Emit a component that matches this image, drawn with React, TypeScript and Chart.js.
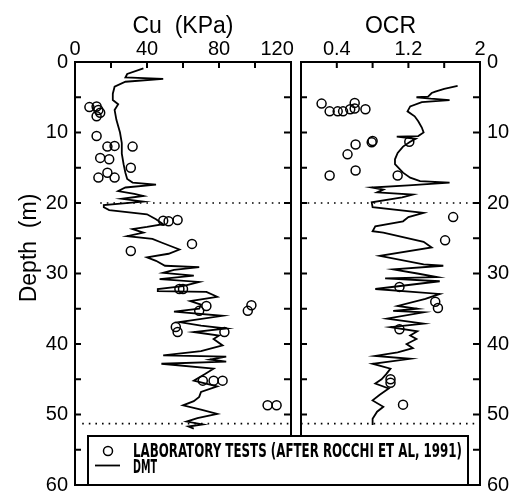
import React, { useEffect, useRef } from "react";
import { Chart, registerables } from "chart.js";

Chart.register(...registerables);

// ---------- data ----------
const dmtCuDepth = [0.9, 1.7, 2.2, 2.4, 2.8, 3.5, 4.5, 5.4, 6.0, 6.8, 8.2, 10.0, 11.5, 13.0, 14.5, 15.7, 16.6, 17.1, 17.4, 17.8, 18.3, 18.7, 19.0, 19.4, 19.8, 20.3, 20.6, 21.0, 21.6, 22.3, 23.0, 23.4, 23.7, 24.2, 24.7, 25.1, 25.6, 26.1, 26.6, 27.2, 27.7, 28.2, 28.9, 29.1, 29.5, 29.9, 30.3, 30.8, 31.2, 31.8, 32.2, 32.5, 32.6, 33.3, 33.9, 34.4, 35.0, 35.4, 36.0, 36.9, 37.4, 37.8, 38.3, 38.8, 39.3, 40.2, 41.0, 41.6, 41.8, 42.2, 42.5, 42.8, 43.5, 44.3, 45.2, 46.0, 46.8, 47.5, 48.1, 48.7, 49.3, 49.9, 50.5, 51.0, 51.4, 51.7, 52.0];
const dmtCu = [38, 29, 28, 49, 28, 22, 21, 21, 24, 22, 23, 25, 26, 26, 27, 28, 29, 32, 45, 28, 24, 33, 38, 26, 38, 16, 16, 19, 40, 45, 49, 40, 32, 38, 29, 43, 48, 53, 58, 52, 40, 45, 50, 69, 55, 49, 66, 47, 69, 60, 46, 46, 73, 79, 64, 70, 69, 55, 82, 58, 70, 84, 66, 80, 77, 82, 70, 49, 84, 75, 84, 48, 77, 72, 66, 79, 70, 69, 66, 60, 70, 79, 68, 62, 71, 63, 66];

const labCuDepth = [6.3, 6.4, 6.8, 7.2, 7.7, 10.5, 12.0, 11.9, 12.0, 13.6, 13.8, 15.0, 16.4, 15.7, 16.4, 22.5, 22.6, 22.4, 26.8, 25.8, 32.2, 32.2, 34.6, 35.3, 34.5, 35.3, 37.6, 38.3, 38.3, 45.2, 45.2, 45.2, 48.7, 48.7];
const labCu = [12, 8, 13, 14, 12, 12, 18, 22, 32, 14, 19, 31, 13, 18, 22, 49, 52, 57, 31, 65, 58, 60, 73, 69, 98, 96, 56, 57, 83, 71, 77, 82, 107, 112];

const dmtOcrDepth = [3.4, 3.8, 4.2, 4.4, 4.9, 5.0, 5.2, 5.4, 5.7, 6.3, 7.0, 7.7, 8.4, 9.3, 10.0, 10.5, 10.6, 10.9, 11.3, 12.0, 12.9, 13.8, 14.5, 15.7, 16.4, 16.9, 17.1, 17.5, 17.8, 18.1, 18.5, 18.8, 19.2, 19.9, 20.6, 21.4, 22.0, 22.6, 23.3, 24.0, 24.2, 25.5, 26.3, 27.5, 28.7, 28.9, 29.4, 30.0, 30.5, 30.7, 31.1, 32.2, 32.9, 33.6, 34.6, 35.0, 35.3, 35.5, 36.4, 37.1, 37.6, 38.2, 38.8, 39.3, 40.0, 40.6, 41.2, 41.7, 42.1, 42.8, 43.5, 44.3, 45.0, 45.6, 46.3, 47.2, 48.0, 48.9, 49.6, 50.6, 51.5];
const dmtOcr = [1.75, 1.6, 1.5, 1.46, 1.42, 1.29, 1.45, 1.66, 1.35, 1.22, 1.19, 1.27, 1.31, 1.35, 1.37, 1.31, 1.07, 1.28, 1.22, 1.14, 1.08, 1.05, 1.05, 1.14, 1.22, 1.33, 1.66, 1.2, 0.79, 0.92, 0.85, 1.25, 1.13, 0.79, 0.8, 1.37, 1.2, 1.14, 0.83, 0.8, 0.92, 1.37, 1.46, 0.88, 1.37, 1.59, 1.03, 1.3, 1.52, 0.94, 1.55, 0.83, 1.55, 1.39, 1.08, 1.3, 1.03, 1.37, 0.96, 1.37, 1.0, 1.3, 1.22, 1.29, 1.18, 1.25, 1.08, 0.83, 1.22, 0.8, 1.0, 0.95, 0.9, 0.83, 0.98, 0.88, 0.8, 0.92, 0.85, 0.8, 0.8];

const labOcrDepth = [5.9, 7.0, 7.0, 7.0, 6.7, 5.8, 6.6, 6.7, 11.3, 11.7, 11.4, 11.2, 13.1, 16.1, 15.4, 16.1, 22.0, 25.3, 31.9, 34.0, 34.9, 37.9, 45.0, 45.5, 48.6];
const labOcr = [0.23, 0.32, 0.41, 0.47, 0.55, 0.6, 0.6, 0.72, 1.21, 0.61, 0.79, 0.8, 0.52, 0.32, 0.61, 1.08, 1.70, 1.61, 1.1, 1.5, 1.53, 1.1, 1.0, 1.0, 1.14];

const boundaryDepths = [20, 51.3];
const cuBoundaryFrom = [14, 4];
const ocrBoundaryFrom = [0, 0];

const cuRange = [0, 120];
const ocrRange = [0, 2];
const depthRange = [0, 60];

const cuTitle = "Cu  (KPa)";
const ocrTitle = "OCR";
const depthTitle = "Depth  (m)";
const legendLabels = ["LABORATORY TESTS (AFTER ROCCHI ET AL, 1991)", "DMT"];

// ---------- helpers ----------
const FONT = "'Liberation Sans', Arial, Helvetica, sans-serif";
const NARROW = "'Liberation Sans Narrow', 'DejaVu Sans Condensed', 'Liberation Sans', sans-serif";

const pts = (xs: number[], ys: number[]) => xs.map((x, i) => ({ x, y: ys[i] }));

function boundarySets(from: number[], to: number) {
  return boundaryDepths.map((d, i) => ({
    data: [{ x: from[i], y: d }, { x: to, y: d }],
    showLine: true,
    borderColor: "#000",
    borderWidth: 1.6,
    borderDash: [1.6, 5],
    pointRadius: 0,
    fill: false,
  }));
}

function framePlugin(id: string, extra: (chart: any) => void) {
  return {
    id,
    afterDraw(chart: any) {
      const { ctx, chartArea } = chart;
      const { left, top, right, bottom } = chartArea;
      const xs = chart.scales.x;
      const ys = chart.scales.y;
      ctx.save();
      ctx.strokeStyle = "#000";
      ctx.lineWidth = 2;
      ctx.strokeRect(left, top, right - left, bottom - top);
      ctx.beginPath();
      ys.ticks.forEach((t: any) => {
        if (t.value <= ys.min || t.value >= ys.max) return;
        const py = ys.getPixelForValue(t.value);
        ctx.moveTo(left, py);
        ctx.lineTo(left + 6, py);
        ctx.moveTo(right, py);
        ctx.lineTo(right - 7, py);
      });
      xs.ticks.forEach((t: any) => {
        if (t.value <= xs.min + 1e-9 || t.value >= xs.max - 1e-9) return;
        const px = xs.getPixelForValue(t.value);
        ctx.moveTo(px, top);
        ctx.lineTo(px, top + 6);
        ctx.moveTo(px, bottom);
        ctx.lineTo(px, bottom - 6);
      });
      ctx.stroke();
      ctx.restore();
      extra(chart);
    },
  };
}

function baseOptions(padding: any, xMin: number, xMax: number, xStep: number, xCb: any, yPos: string, yWidth: number) {
  return {
    animation: false,
    responsive: false,
    devicePixelRatio: 1,
    layout: { padding },
    plugins: { legend: { display: false }, tooltip: { enabled: false } },
    scales: {
      x: {
        type: "linear",
        position: "top",
        min: xMin,
        max: xMax,
        grid: { display: false, drawTicks: false },
        border: { display: false },
        ticks: {
          stepSize: xStep,
          autoSkip: false,
          maxRotation: 0,
          padding: 1,
          color: "#000",
          font: { size: 20, family: FONT },
          callback: xCb,
        },
        afterFit: (s: any) => {
          s.height = 62;
        },
      },
      y: {
        type: "linear",
        position: yPos,
        reverse: true,
        min: depthRange[0],
        max: depthRange[1],
        grid: { display: false, drawTicks: false },
        border: { display: false },
        ticks: {
          stepSize: 5,
          autoSkip: false,
          padding: 7,
          color: "#000",
          font: { size: 20, family: FONT },
          callback: (v: number) => (v % 10 === 0 ? String(v) : ""),
        },
        afterFit: (s: any) => {
          s.width = yWidth;
        },
      },
    },
  };
}

export default function App() {
  const c1 = useRef<HTMLCanvasElement>(null);
  const c2 = useRef<HTMLCanvasElement>(null);

  useEffect(() => {
    const lineStyle = { showLine: true, borderColor: "#000", borderWidth: 1.8, pointRadius: 0, fill: false };
    const pointStyle = {
      showLine: false,
      pointRadius: 4.5,
      pointBorderWidth: 1.5,
      pointBorderColor: "#000",
      pointBackgroundColor: "rgba(0,0,0,0)",
    };

    const chart1 = new Chart(c1.current as HTMLCanvasElement, {
      type: "scatter",
      data: {
        datasets: [
          { data: pts(dmtCu, dmtCuDepth), ...lineStyle },
          { data: pts(labCu, labCuDepth), ...pointStyle },
          ...boundarySets(cuBoundaryFrom, cuRange[1]),
        ] as any,
      },
      options: baseOptions(
        { left: 0, top: 0, right: 222, bottom: 17 },
        cuRange[0],
        cuRange[1],
        20,
        (v: number) => (v % 40 === 0 ? (v === cuRange[1] ? String(v) + "     " : String(v)) : ""),
        "left",
        75
      ) as any,
      plugins: [
        framePlugin("frame1", (chart: any) => {
          const { ctx, chartArea } = chart;
          ctx.save();
          ctx.fillStyle = "#000";
          ctx.font = `23px ${FONT}`;
          ctx.textAlign = "center";
          ctx.textBaseline = "alphabetic";
          ctx.fillText(cuTitle, (chartArea.left + chartArea.right) / 2, 33);
          ctx.translate(36, 248);
          ctx.rotate(-Math.PI / 2);
          ctx.fillText(depthTitle, 0, 0);
          ctx.restore();
        }),
      ],
    });

    const chart2 = new Chart(c2.current as HTMLCanvasElement, {
      type: "scatter",
      data: {
        datasets: [
          { data: pts(dmtOcr, dmtOcrDepth), ...lineStyle },
          { data: pts(labOcr, labOcrDepth), ...pointStyle },
          ...boundarySets(ocrBoundaryFrom, ocrRange[1]),
        ] as any,
      },
      options: baseOptions(
        { left: 301, top: 0, right: 0, bottom: 17 },
        ocrRange[0],
        ocrRange[1],
        0.4,
        (v: number, i: number) => (i % 2 === 1 ? String(Math.round(v * 10) / 10) : ""),
        "right",
        33
      ) as any,
      plugins: [
        framePlugin("frame2", (chart: any) => {
          const { ctx, chartArea } = chart;
          ctx.save();
          ctx.fillStyle = "#000";
          ctx.font = `23px ${FONT}`;
          ctx.textAlign = "center";
          ctx.textBaseline = "alphabetic";
          ctx.fillText(ocrTitle, (chartArea.left + chartArea.right) / 2, 33);

          // legend box
          ctx.fillStyle = "#fff";
          ctx.fillRect(88, 436, 380, 49);
          ctx.strokeStyle = "#000";
          ctx.lineWidth = 2;
          ctx.strokeRect(88, 436, 380, 49);
          // circle marker
          ctx.lineWidth = 1.5;
          ctx.beginPath();
          ctx.arc(108, 451, 4.5, 0, Math.PI * 2);
          ctx.stroke();
          // line marker
          ctx.lineWidth = 1.8;
          ctx.beginPath();
          ctx.moveTo(95, 465.5);
          ctx.lineTo(120, 465.5);
          ctx.stroke();
          ctx.fillStyle = "#000";
          ctx.font = `bold 20px ${NARROW}`;
          ctx.textAlign = "left";
          ctx.fillText(legendLabels[0], 133, 457, 329);
          ctx.fillText(legendLabels[1], 133, 473, 24);
          ctx.restore();
        }),
      ],
    });

    return () => {
      chart1.destroy();
      chart2.destroy();
    };
  }, []);

  const cs: React.CSSProperties = { position: "absolute", left: 0, top: 0, width: 513, height: 504 };
  return (
    <div style={{ position: "fixed", left: 0, top: 0, width: 513, height: 504, background: "#fff" }}>
      <canvas ref={c1} width={513} height={504} style={cs} />
      <canvas ref={c2} width={513} height={504} style={cs} />
    </div>
  );
}
